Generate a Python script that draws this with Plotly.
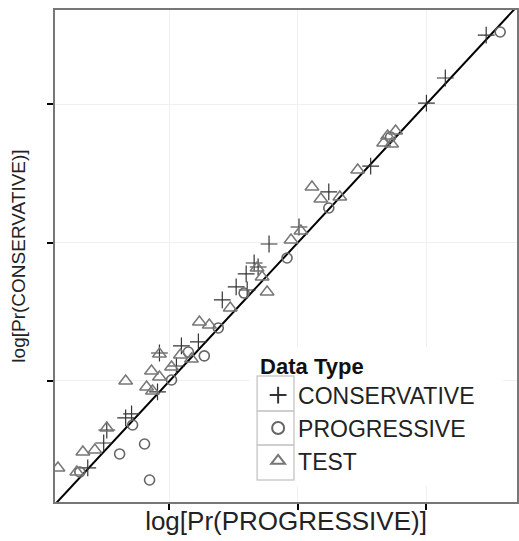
import plotly.graph_objects as go

# Data (log-probability units)
cons_x = [-0.535, -0.853, -1.000, -1.434, -1.760, -1.992, -2.225, -2.341, -2.310, -2.403,
          -2.481, -2.395, -2.589, -2.907, -2.775, -3.078, -2.946, -3.093, -3.295, -3.341,
          -3.488, -3.512, -3.636]
cons_y = [-0.502, -0.812, -0.993, -1.448, -1.635, -1.888, -2.011, -2.148, -2.177, -2.227,
          -2.321, -2.343, -2.415, -2.747, -2.718, -2.798, -2.892, -3.079, -3.238, -3.267,
          -3.354, -3.448, -3.628]

prog_x = [-0.426, -1.279, -1.760, -2.085, -2.419, -2.620, -2.853, -2.729, -2.984, -3.287,
          -3.388, -3.194, -3.155, -3.698]
prog_y = [-0.480, -1.238, -1.751, -2.112, -2.365, -2.617, -2.791, -2.819, -2.993, -3.318,
          -3.527, -3.455, -3.715, -3.657]

test_x = [-1.240, -1.333, -1.271, -1.302, -1.535, -1.891, -1.822, -1.674, -1.977, -2.054,
          -2.279, -2.240, -2.318, -2.527, -2.767, -2.690, -3.078, -2.915, -2.829, -2.984,
          -3.140, -3.078, -3.341, -3.178, -3.132, -3.488, -3.674, -3.581, -3.868, -3.721]
test_y = [-1.195, -1.282, -1.289, -1.231, -1.477, -1.599, -1.686, -1.671, -1.917, -1.982,
          -2.249, -2.357, -2.184, -2.473, -2.574, -2.596, -2.805, -2.812, -2.841, -2.899,
          -2.928, -2.971, -3.000, -3.043, -3.072, -3.339, -3.513, -3.498, -3.628, -3.657]

ref_line = [-4.0, 0.0]
tick_vals = [-3, -2, -1]

fig = go.Figure()
fig.add_trace(go.Scatter(x=ref_line, y=ref_line, mode="lines",
                         line=dict(color="black", width=2), showlegend=False,
                         hoverinfo="skip"))
fig.add_trace(go.Scatter(x=cons_x, y=cons_y, mode="markers", name="CONSERVATIVE",
                         legendgroup="a",
                         marker=dict(symbol="cross-thin-open", size=12, color="#333333",
                                     line=dict(color="#333333", width=1.2))))
fig.add_trace(go.Scatter(x=prog_x, y=prog_y, mode="markers", name="PROGRESSIVE",
                         legendgroup="b",
                         marker=dict(symbol="circle-open", size=10, color="#666666",
                                     line=dict(color="#666666", width=1.6))))
fig.add_trace(go.Scatter(x=test_x, y=test_y, mode="markers", name="TEST",
                         legendgroup="c",
                         marker=dict(symbol="triangle-up-open", size=12, color="#777777",
                                     line=dict(color="#777777", width=1.5))))

L, R, T, B = 55, 0, 10, 39
W, H = 519, 541
pw, ph = W - L - R, H - T - B


def px(xp):
    return (xp - L) / pw


def py(yp):
    return (T + ph - yp) / ph


shapes = [dict(type="rect", xref="paper", yref="paper", x0=px(250), x1=px(505),
               y0=py(486), y1=py(347), fillcolor="white", line=dict(width=0),
               layer="above")]
for top, bot in [(376, 411), (411, 445), (445, 480)]:
    shapes.append(dict(type="rect", xref="paper", yref="paper", x0=px(258), x1=px(295),
                       y0=py(bot), y1=py(top), fillcolor="rgba(0,0,0,0)",
                       line=dict(color="#cccccc", width=1.5), layer="above"))

axis_common = dict(showticklabels=False, ticks="outside", ticklen=6, tickwidth=2,
                   tickcolor="black", tickvals=tick_vals, showgrid=True,
                   gridcolor="#f0f0f0", gridwidth=1, zeroline=False, showline=True,
                   linecolor="#777777", linewidth=2, mirror=True)

fig.update_layout(
    width=W, height=H,
    margin=dict(l=L, r=R, t=T, b=B),
    paper_bgcolor="white", plot_bgcolor="white",
    font=dict(family="Liberation Sans, Arial, sans-serif", color="#222222"),
    xaxis=dict(range=[-3.891, -0.295],
               title=dict(text="log[Pr(PROGRESSIVE)]", font=dict(size=26), standoff=3),
               **axis_common),
    yaxis=dict(range=[-3.874, -0.321],
               title=dict(text="log[Pr(CONSERVATIVE)]", font=dict(size=19), standoff=16),
               **axis_common),
    legend=dict(x=px(259), y=py(345), xanchor="left", yanchor="top",
                bgcolor="rgba(0,0,0,0)", borderwidth=0,
                title=dict(text="<b>Data Type</b>", font=dict(size=22, color="#111111")),
                font=dict(size=23, color="#222222"), tracegroupgap=0,
                itemsizing="constant"),
    shapes=shapes,
    showlegend=True,
)

fig.write_html("out.html", post_script="document.body.style.margin='0';",
               config={"displayModeBar": False})
